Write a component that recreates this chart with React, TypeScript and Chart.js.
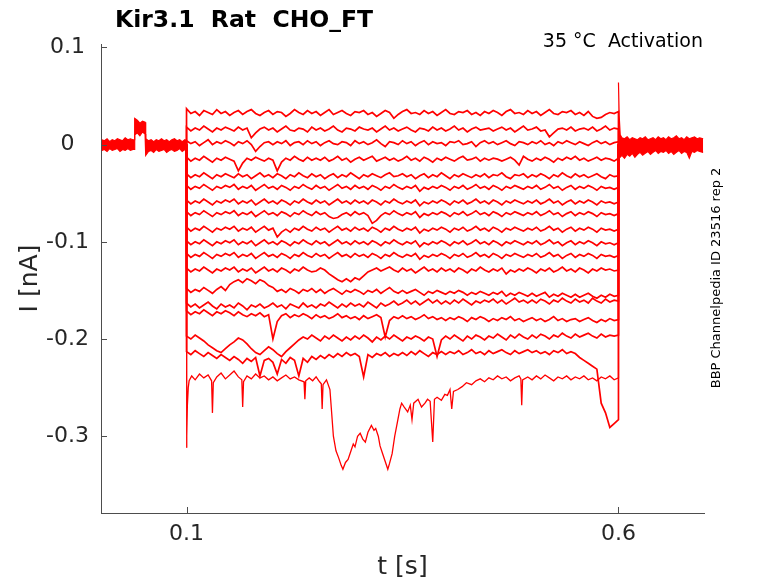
import React, { useEffect, useRef } from 'react';
import { Chart, registerables } from 'chart.js';

Chart.register(...registerables);

// axis ranges and ticks (seconds, nA)
const X_MIN = 0.001;
const X_MAX = 0.699;
const Y_MIN = -0.379;
const Y_MAX = 0.1035;
const X_TICKS = [0.1, 0.6];
const Y_TICKS = [-0.3, -0.2, -0.1, 0, 0.1];

// holding current before the step, band edges in pA
const PRE_T = [0.002, 0.005, 0.008, 0.011, 0.014, 0.017, 0.020, 0.023, 0.026, 0.029,
  0.032, 0.035, 0.038, 0.0395, 0.040, 0.043, 0.046, 0.049, 0.052, 0.0525,
  0.053, 0.056, 0.059, 0.062, 0.065, 0.068, 0.071, 0.074, 0.077, 0.080,
  0.083, 0.086, 0.089, 0.092, 0.095, 0.098, 0.0995];
const PRE_HI = [5, 4, 6, 3, 5, 4, 6, 5, 4, 7,
  5, 6, 5, 5, 27, 25, 22, 24, 23, 20,
  6, 4, 5, 3, 5, 4, 6, 4, 5, 3,
  5, 6, 4, 5, 3, 5, 4];
const PRE_LO = [-6, -5, -7, -4, -6, -5, -4, -7, -5, -6,
  -4, -6, -5, -5, 10, 12, 9, 13, 11, 10,
  -11, -7, -6, -8, -5, -7, -6, -5, -8, -6,
  -5, -7, -6, -4, -7, -5, -6];

// tail current after the step, band edges in pA
const TAIL_T = [0.600, 0.6008, 0.602, 0.604, 0.607, 0.610, 0.613, 0.616, 0.619, 0.622,
  0.625, 0.628, 0.631, 0.634, 0.637, 0.640, 0.643, 0.646, 0.649, 0.652,
  0.655, 0.658, 0.661, 0.664, 0.667, 0.670, 0.673, 0.676, 0.679, 0.682,
  0.685, 0.688, 0.691, 0.694, 0.698];
const TAIL_HI = [64, 30, 10, 7, 6, 8, 5, 7, 6, 5,
  7, 6, 8, 5, 6, 7, 5, 8, 6, 7,
  5, 8, 6, 7, 9, 6, 7, 5, 8, 6,
  7, 8, 6, 7, 6];
const TAIL_LO = [-5, -12, -13, -11, -14, -10, -12, -9, -13, -10,
  -8, -11, -9, -7, -10, -8, -6, -9, -7, -8,
  -6, -9, -7, -10, -8, -6, -9, -7, -8, -14,
  -7, -8, -6, -7, -8];

// sample times during the voltage step
const STEP_T = [
  0.100, 0.105, 0.110, 0.115, 0.120, 0.125, 0.130, 0.135, 0.140, 0.145,
  0.150, 0.155, 0.160, 0.165, 0.170, 0.175, 0.180, 0.185, 0.190, 0.195,
  0.200, 0.205, 0.210, 0.215, 0.220, 0.225, 0.230, 0.235, 0.240, 0.245,
  0.250, 0.255, 0.260, 0.265, 0.270, 0.275, 0.280, 0.285, 0.290, 0.295,
  0.300, 0.305, 0.310, 0.315, 0.320, 0.325, 0.330, 0.335, 0.340, 0.345,
  0.350, 0.355, 0.360, 0.365, 0.370, 0.375, 0.380, 0.385, 0.390, 0.395,
  0.400, 0.405, 0.410, 0.415, 0.420, 0.425, 0.430, 0.435, 0.440, 0.445,
  0.450, 0.455, 0.460, 0.465, 0.470, 0.475, 0.480, 0.485, 0.490, 0.495,
  0.500, 0.505, 0.510, 0.515, 0.520, 0.525, 0.530, 0.535, 0.540, 0.545,
  0.550, 0.555, 0.560, 0.565, 0.570, 0.575, 0.580, 0.585, 0.590, 0.595,
  0.600,
];

// step currents in pA, one array per sweep
const TRACE_01 = [
  37, 32, 34, 30, 35, 33, 31, 36, 32, 34,
  30, 33, 35, 31, 34, 36, 32, 30, 33, 35,
  31, 34, 33, 29, 32, 36, 33, 31, 35, 32,
  34, 30, 33, 36, 31, 33, 35, 32, 30, 34,
  33, 35, 31, 33, 29, 32, 35, 33, 27, 31,
  34, 36, 32, 33, 31, 35, 32, 34, 30, 33,
  36, 32, 31, 34, 33, 35, 31, 33, 30, 34,
  32, 35, 33, 30, 34, 36, 32, 33, 31, 35,
  32, 34, 30, 33, 36, 32, 31, 34, 33, 35,
  31, 33, 30, 34, 29, 27, 28, 31, 33, 32,
  34,
];
const TRACE_02 = [
  18, 14, 17, 15, 19, 16, 13, 17, 15, 18,
  16, 14, 18, 15, 17, 7, 12, 16, 18, 15,
  17, 13, 16, 19, 15, 14, 17, 16, 13, 18,
  15, 17, 14, 16, 19, 15, 13, 17, 16, 14,
  18, 16, 15, 17, 13, 16, 19, 15, 17, 14,
  16, 18, 15, 13, 17, 16, 14, 18, 15, 17,
  14, 16, 19, 15, 17, 13, 16, 18, 15, 16,
  17, 14, 16, 18, 15, 17, 13, 16, 19, 15,
  16, 18, 14, 15, 8, 12, 16, 17, 15, 18,
  14, 16, 17, 15, 18, 14, 16, 19, 15, 17,
  16,
];
const TRACE_03 = [
  4, 1, 3, -1, 2, 5, 0, 3, 1, 4,
  2, -1, 3, 1, 4, 0, -7, -2, 2, 3,
  0, 3, 1, 4, -1, 2, 3, 0, 4, 1,
  3, -1, 2, 4, 1, 0, 3, 2, -1, 4,
  1, 3, 0, 2, 5, 1, -2, 3, 2, 0,
  4, 1, 3, -1, 2, 4, 0, 3, 1, 2,
  -1, 3, 2, 4, 0, 1, 3, -2, 2, 4,
  1, 3, 0, 2, 4, 1, -1, 3, 2, 0,
  3, 1, 4, 0, 2, -1, 3, 1, 4, 2,
  0, 3, 1, -1, 2, 4, 1, 3, 0, 2,
  3,
];
const TRACE_04 = [
  -13, -17, -14, -16, -12, -15, -18, -14, -16, -13,
  -15, -17, -27, -19, -14, -16, -13, -15, -17, -14,
  -16, -27, -18, -14, -16, -12, -15, -17, -13, -16,
  -14, -16, -13, -17, -15, -12, -16, -14, -18, -15,
  -13, -16, -14, -12, -17, -15, -13, -16, -14, -17,
  -15, -12, -16, -14, -17, -13, -15, -18, -14, -16,
  -13, -15, -17, -14, -12, -16, -15, -13, -17, -14,
  -16, -14, -15, -17, -15, -13, -16, -21, -12, -15,
  -17, -14, -16, -13, -15, -18, -14, -16, -13, -15,
  -12, -16, -14, -17, -15, -13, -16, -14, -15, -17,
  -14,
];
const TRACE_05 = [
  -30, -34, -31, -33, -29, -32, -35, -31, -33, -30,
  -32, -34, -30, -33, -31, -35, -32, -29, -33, -31,
  -34, -30, -32, -35, -31, -33, -29, -32, -34, -30,
  -33, -31, -35, -32, -30, -34, -31, -33, -29, -32,
  -35, -31, -33, -30, -32, -34, -31, -29, -33, -32,
  -30, -33, -31, -35, -32, -30, -34, -31, -33, -29,
  -32, -35, -31, -33, -30, -32, -34, -31, -33, -30,
  -34, -31, -32, -29, -33, -35, -31, -32, -30, -34,
  -31, -33, -30, -32, -35, -31, -33, -29, -32, -34,
  -30, -33, -31, -34, -32, -30, -33, -35, -31, -33,
  -32,
];
const TRACE_06 = [
  -42, -46, -43, -45, -41, -44, -47, -43, -45, -42,
  -44, -41, -46, -43, -45, -42, -47, -44, -41, -45,
  -43, -46, -42, -44, -47, -43, -45, -41, -44, -46,
  -42, -45, -43, -47, -44, -41, -45, -43, -46, -42,
  -45, -43, -46, -42, -44, -47, -43, -45, -41, -44,
  -46, -43, -45, -42, -48, -44, -46, -43, -45, -42,
  -44, -47, -43, -45, -42, -46, -44, -41, -45, -43,
  -46, -42, -44, -47, -43, -45, -42, -44, -46, -43,
  -45, -42, -46, -44, -41, -45, -43, -47, -44, -42,
  -46, -43, -45, -42, -44, -47, -43, -45, -44, -46,
  -44,
];
const TRACE_07 = [
  -57, -61, -58, -60, -56, -59, -62, -58, -60, -57,
  -59, -56, -61, -58, -60, -57, -62, -59, -56, -60,
  -58, -61, -57, -59, -62, -58, -60, -56, -59, -61,
  -57, -60, -58, -62, -59, -56, -60, -58, -61, -57,
  -60, -58, -61, -57, -59, -62, -58, -60, -56, -59,
  -61, -58, -60, -57, -63, -59, -61, -58, -60, -57,
  -59, -62, -58, -60, -57, -61, -59, -56, -60, -58,
  -61, -57, -59, -62, -58, -60, -57, -59, -61, -58,
  -60, -57, -61, -59, -56, -60, -58, -62, -59, -57,
  -61, -58, -60, -57, -59, -62, -58, -60, -59, -61,
  -59,
];
const TRACE_08 = [
  -69, -73, -70, -72, -68, -71, -74, -70, -72, -69,
  -71, -68, -73, -70, -72, -69, -74, -71, -68, -72,
  -70, -73, -69, -71, -74, -70, -72, -68, -71, -73,
  -69, -72, -70, -74, -76, -75, -72, -70, -73, -69,
  -72, -70, -73, -81, -78, -73, -70, -72, -68, -71,
  -73, -70, -72, -69, -75, -71, -73, -70, -72, -69,
  -71, -74, -70, -72, -69, -73, -71, -68, -72, -70,
  -73, -69, -71, -74, -70, -72, -69, -71, -73, -70,
  -72, -69, -73, -71, -68, -72, -70, -74, -71, -69,
  -73, -70, -72, -69, -71, -74, -70, -72, -71, -73,
  -71,
];
const TRACE_09 = [
  -85, -89, -86, -88, -84, -87, -90, -86, -88, -85,
  -87, -84, -89, -86, -88, -85, -90, -87, -84, -88,
  -86, -95, -90, -87, -90, -86, -88, -84, -87, -89,
  -85, -88, -86, -90, -87, -84, -88, -86, -89, -85,
  -88, -86, -89, -85, -87, -90, -86, -88, -84, -87,
  -89, -86, -88, -85, -91, -87, -89, -86, -88, -85,
  -87, -90, -86, -88, -85, -89, -87, -84, -88, -86,
  -89, -85, -87, -90, -86, -88, -85, -87, -89, -86,
  -88, -85, -89, -87, -84, -88, -86, -90, -87, -85,
  -89, -86, -88, -85, -87, -90, -86, -88, -87, -89,
  -87,
];
const TRACE_10 = [
  -99, -103, -100, -102, -98, -101, -104, -100, -102, -99,
  -101, -98, -103, -100, -102, -99, -104, -101, -98, -102,
  -100, -103, -99, -101, -104, -100, -102, -98, -101, -103,
  -99, -102, -100, -104, -101, -98, -102, -100, -103, -99,
  -102, -100, -103, -99, -101, -104, -100, -102, -98, -101,
  -103, -100, -102, -99, -105, -101, -103, -100, -102, -99,
  -101, -104, -100, -102, -99, -103, -101, -98, -102, -100,
  -103, -99, -101, -104, -100, -102, -99, -101, -103, -100,
  -102, -99, -103, -101, -98, -102, -100, -104, -101, -99,
  -103, -100, -102, -99, -101, -104, -100, -102, -101, -103,
  -101,
];
const TRACE_11 = [
  -112, -116, -113, -115, -111, -114, -117, -113, -115, -112,
  -114, -111, -116, -113, -115, -112, -117, -114, -111, -115,
  -113, -116, -112, -114, -117, -113, -115, -111, -114, -116,
  -112, -115, -113, -117, -114, -111, -115, -113, -116, -112,
  -115, -113, -116, -112, -114, -117, -113, -115, -111, -114,
  -116, -113, -115, -112, -118, -114, -116, -113, -115, -112,
  -114, -117, -113, -115, -112, -116, -114, -111, -115, -113,
  -116, -112, -114, -117, -113, -115, -112, -114, -116, -113,
  -115, -112, -116, -114, -111, -115, -113, -117, -114, -112,
  -116, -113, -115, -112, -114, -117, -113, -115, -114, -116,
  -114,
];
const TRACE_12 = [
  -127, -131, -128, -130, -126, -129, -132, -128, -130, -127,
  -129, -126, -131, -128, -130, -127, -132, -129, -126, -130,
  -128, -131, -127, -129, -132, -128, -130, -126, -129, -131,
  -130, -127, -129, -133, -136, -139, -141, -138, -141, -137,
  -139, -135, -131, -129, -127, -130, -128, -126, -129, -131,
  -127, -130, -128, -132, -129, -126, -130, -128, -131, -127,
  -130, -128, -131, -127, -129, -132, -128, -130, -126, -129,
  -131, -128, -130, -127, -133, -129, -131, -128, -130, -127,
  -129, -132, -128, -130, -127, -131, -129, -126, -130, -128,
  -131, -127, -129, -132, -128, -130, -127, -129, -128, -130,
  -129,
];
const TRACE_13 = [
  -148, -152, -149, -151, -147, -150, -153, -149, -146, -150,
  -144, -141, -139, -142, -138, -140, -143, -139, -141, -145,
  -147, -151, -149, -152, -148, -150, -153, -149, -151, -148,
  -152, -149, -153, -150, -148, -151, -154, -150, -152, -149,
  -151, -154, -150, -152, -149, -153, -150, -147, -151, -153,
  -150, -153, -151, -149, -152, -155, -151, -153, -150, -152,
  -154, -151, -153, -150, -152, -155, -152, -154, -151, -153,
  -155, -152, -154, -151, -156, -153, -155, -152, -154, -156,
  -153, -156, -154, -152, -157, -154, -156, -153, -155, -157,
  -154, -157, -155, -153, -156, -158, -155, -157, -154, -156,
  -155,
];
const TRACE_14 = [
  -163, -167, -164, -168, -165, -162, -166, -169, -164, -167,
  -165, -168, -163, -166, -170, -165, -167, -164, -168, -166,
  -163, -167, -165, -169, -164, -166, -168, -163, -167, -165,
  -168, -164, -166, -162, -165, -168, -164, -167, -163, -166,
  -164, -167, -162, -165, -168, -163, -166, -164, -161, -165,
  -163, -160, -164, -161, -165, -162, -159, -163, -160, -164,
  -161, -164, -160, -163, -159, -162, -165, -161, -163, -160,
  -162, -159, -163, -160, -164, -161, -158, -162, -160, -163,
  -160, -163, -159, -161, -164, -160, -162, -158, -161, -163,
  -159, -162, -160, -163, -158, -161, -163, -159, -162, -160,
  -161,
];
const TRACE_15 = [
  -171, -175, -172, -174, -170, -173, -176, -172, -174, -171,
  -173, -176, -172, -175, -177, -174, -176, -173, -177, -175,
  -200, -182, -176, -174, -178, -175, -177, -174, -176, -179,
  -175, -178, -176, -179, -177, -174, -178, -176, -179, -177,
  -180, -176, -179, -177, -175, -178, -198, -181, -177, -179,
  -176, -179, -177, -180, -178, -175, -179, -177, -180, -178,
  -181, -178, -180, -177, -179, -182, -178, -180, -177, -179,
  -182, -179, -181, -178, -180, -177, -181, -179, -182, -180,
  -178, -181, -179, -182, -180, -177, -181, -179, -182, -180,
  -179, -182, -180, -178, -181, -183, -180, -182, -179, -181,
  -180,
];
const TRACE_16 = [
  -197, -200, -196, -199, -202, -206, -209, -212, -214, -210,
  -206, -203, -199, -201, -205, -210, -214, -216, -212, -208,
  -211, -215, -218, -213, -209, -205, -201, -198, -200, -196,
  -199, -202, -197, -200, -196, -199, -202, -198, -201, -197,
  -200, -196, -199, -203, -198, -201, -197, -200, -196, -199,
  -202, -198, -200, -197, -199, -202, -198, -200, -218, -201,
  -197, -200, -196, -199, -202, -197, -200, -196, -198, -201,
  -197, -199, -195, -198, -201, -196, -199, -195, -198, -200,
  -196, -199, -195, -197, -200, -196, -198, -194, -197, -199,
  -195, -198, -196, -194, -197, -199, -195, -198, -196, -197,
  -196,
];
const TRACE_17 = [
  -213, -216, -212, -215, -218, -214, -217, -220, -216, -219,
  -222, -218, -221, -225, -220, -223, -219, -238, -222, -220,
  -224, -236, -221, -225, -219, -222, -238, -220, -224, -218,
  -221, -217, -220, -216, -219, -215, -218, -214, -217, -215,
  -218, -239, -216, -219, -215, -217, -214, -218, -215, -217,
  -214, -217, -213, -216, -212, -215, -218, -214, -216, -213,
  -216, -213, -215, -212, -216, -214, -211, -215, -213, -216,
  -212, -215, -213, -211, -214, -216, -212, -215, -213, -211,
  -214, -212, -215, -213, -216, -212, -214, -211, -215, -213,
  -215, -219, -222, -225, -228, -231, -266, -276, -291, -287,
  -283,
];

// deepest sweep, sampled more finely through its large dips
const DIP_T = [
  0.1, 0.1005, 0.101, 0.102, 0.103, 0.106, 0.11, 0.115, 0.12, 0.125,
  0.129, 0.13, 0.131, 0.135, 0.14, 0.145, 0.15, 0.155, 0.16, 0.164,
  0.165, 0.166, 0.17, 0.175, 0.18, 0.185, 0.19, 0.195, 0.2, 0.205,
  0.21, 0.215, 0.22, 0.225, 0.23, 0.236, 0.237, 0.238, 0.242, 0.246,
  0.25, 0.254, 0.256, 0.257, 0.258, 0.262, 0.266, 0.27, 0.273, 0.276,
  0.279, 0.281, 0.284, 0.287, 0.29, 0.293, 0.295, 0.298, 0.301, 0.304,
  0.307, 0.31, 0.314, 0.317, 0.319, 0.322, 0.324, 0.327, 0.33, 0.333,
  0.335, 0.338, 0.341, 0.344, 0.347, 0.349, 0.352, 0.356, 0.359, 0.361,
  0.363, 0.368, 0.372, 0.376, 0.379, 0.382, 0.385, 0.387, 0.39, 0.395,
  0.399, 0.402, 0.405, 0.407, 0.409, 0.414, 0.419, 0.424, 0.43, 0.435,
  0.44, 0.445, 0.45, 0.455, 0.46, 0.465, 0.47, 0.475, 0.48, 0.485,
  0.487, 0.488, 0.489, 0.495, 0.5, 0.505, 0.51, 0.515, 0.52, 0.525,
  0.53, 0.535, 0.54, 0.545, 0.55, 0.555, 0.56, 0.565, 0.57, 0.575,
  0.58, 0.585, 0.59, 0.595, 0.6,
];
const DIP_I = [
  -312, -300, -268, -250, -243, -238, -242, -236, -240, -237,
  -243, -276, -245, -239, -235, -241, -237, -233, -239, -242,
  -270, -244, -238, -241, -236, -240, -238, -242, -239, -243,
  -240, -237, -241, -239, -242, -244, -262, -243, -240, -243,
  -239, -244, -246, -272, -247, -242, -252, -300, -315, -322,
  -330, -334, -327, -324, -316, -308, -311, -300, -297, -303,
  -306, -296, -289, -294, -292, -300, -310, -318, -326, -334,
  -328, -318, -300, -286, -272, -266, -270, -275, -268, -283,
  -266, -262, -270, -266, -262, -264, -306, -262, -260, -263,
  -257, -258, -252, -272, -254, -252, -249, -245, -247, -243,
  -241, -244, -240, -242, -238, -241, -239, -243, -240, -238,
  -241, -268, -242, -239, -242, -238, -241, -237, -240, -243,
  -239, -241, -238, -242, -239, -241, -238, -242, -240, -243,
  -239, -241, -238, -242, -240,
];

const STEP_TRACES = [
  TRACE_01, TRACE_02, TRACE_03, TRACE_04, TRACE_05, TRACE_06,
  TRACE_07, TRACE_08, TRACE_09, TRACE_10, TRACE_11, TRACE_12,
  TRACE_13, TRACE_14, TRACE_15, TRACE_16, TRACE_17,
];

const TITLE = 'Kir3.1  Rat  CHO_FT';
const CONDITION = '35 °C  Activation';
const SOURCE = 'BBP Channelpedia ID 23516 rep 2';

const RED = '#ff0000';
const AXIS = '#4d4d4d';
const TXT = '#262626';
const FONT = '"DejaVu Sans", sans-serif';

const toPoints = (times: number[], values: number[]) =>
  times.slice(0, values.length).map((t, i) => ({ x: t, y: values[i] / 1000 }));

const sweep = (times: number[], values: number[]) => [
  { x: 0.1, y: 0 },
  ...toPoints(times, values),
  { x: 0.6, y: 0 },
];

const fmt = (v: number | string) => {
  const n = Number(v);
  return Math.abs(n) < 1e-9 ? '0' : String(Math.round(n * 10) / 10);
};

// inward tick marks and the free-standing labels
const decorations = {
  id: 'decorations',
  afterDraw(chart: any) {
    const { ctx, chartArea, scales } = chart;
    ctx.save();
    ctx.strokeStyle = AXIS;
    ctx.lineWidth = 1;
    ctx.beginPath();
    Y_TICKS.forEach((v) => {
      const y = Math.round(scales.y.getPixelForValue(v)) + 0.5;
      ctx.moveTo(chartArea.left, y);
      ctx.lineTo(chartArea.left + 6, y);
    });
    X_TICKS.forEach((v) => {
      const x = Math.round(scales.x.getPixelForValue(v)) + 0.5;
      ctx.moveTo(x, chartArea.bottom);
      ctx.lineTo(x, chartArea.bottom - 6);
    });
    ctx.stroke();

    ctx.fillStyle = '#000';
    ctx.textBaseline = 'alphabetic';
    ctx.textAlign = 'left';
    ctx.font = `bold 23.5px ${FONT}`;
    ctx.fillText(TITLE, 115, 27);

    ctx.textAlign = 'right';
    ctx.font = `19px ${FONT}`;
    ctx.fillText(CONDITION, 703, 47);

    ctx.translate(717, 278);
    ctx.rotate(-Math.PI / 2);
    ctx.textAlign = 'center';
    ctx.textBaseline = 'middle';
    ctx.font = `13px ${FONT}`;
    ctx.fillText(SOURCE, 0, 0);
    ctx.restore();
  },
};

const App: React.FC = () => {
  const canvasRef = useRef<HTMLCanvasElement>(null);

  useEffect(() => {
    if (!canvasRef.current) return;
    const ctx = canvasRef.current.getContext('2d');
    if (!ctx) return;

    const line = (data: { x: number; y: number }[], extra: object = {}) => ({
      data,
      borderColor: RED,
      backgroundColor: RED,
      borderWidth: 1.7,
      pointRadius: 0,
      fill: false,
      tension: 0,
      ...extra,
    });

    const chart = new Chart(ctx, {
      type: 'line',
      data: {
        datasets: [
          line(toPoints(PRE_T, PRE_HI), { borderWidth: 1.2 }),
          line(toPoints(PRE_T, PRE_LO), { fill: '-1', borderWidth: 1.2 }),
          line(toPoints(TAIL_T, TAIL_HI), { borderWidth: 1.2 }),
          line(toPoints(TAIL_T, TAIL_LO), { fill: '-1', borderWidth: 1.2 }),
          ...STEP_TRACES.map((v) => line(sweep(STEP_T, v))),
          line(sweep(DIP_T, DIP_I), { borderWidth: 1.3 }),
        ] as any,
      },
      options: {
        animation: false,
        responsive: false,
        events: [],
        layout: { padding: { top: 44, right: 74, left: 0, bottom: 0 } },
        plugins: {
          legend: { display: false },
          tooltip: { enabled: false },
        },
        scales: {
          x: {
            type: 'linear',
            min: X_MIN,
            max: X_MAX,
            afterFit: (s: any) => { s.height = 70; },
            afterBuildTicks: (s: any) => { s.ticks = X_TICKS.map((value) => ({ value })); },
            grid: { display: false, drawTicks: false },
            border: { display: true, color: AXIS, width: 1 },
            ticks: {
              color: TXT,
              font: { family: FONT, size: 22 },
              padding: 8,
              maxRotation: 0,
              autoSkip: false,
              callback: (v: any) => fmt(v),
            },
            title: {
              display: true,
              text: 't [s]',
              color: TXT,
              font: { family: FONT, size: 25, lineHeight: 1.2 },
              padding: { top: 0, bottom: 1 },
            },
          },
          y: {
            type: 'linear',
            min: Y_MIN,
            max: Y_MAX,
            afterFit: (s: any) => { s.width = 101; },
            afterBuildTicks: (s: any) => { s.ticks = Y_TICKS.map((value) => ({ value })); },
            grid: { display: false, drawTicks: false },
            border: { display: true, color: AXIS, width: 1 },
            ticks: {
              color: TXT,
              font: { family: FONT, size: 22 },
              padding: 12,
              crossAlign: 'center',
              autoSkip: false,
              callback: (v: any) => fmt(v),
            },
            title: {
              display: true,
              text: 'I [nA]',
              color: TXT,
              font: { family: FONT, size: 25, lineHeight: 1.2 },
              padding: { top: 15, bottom: 0 },
            },
          },
        },
      } as any,
      plugins: [decorations],
    });

    return () => chart.destroy();
  }, []);

  return (
    <div style={{ position: 'fixed', left: 0, top: 0, width: 778, height: 583, background: '#fff' }}>
      <canvas ref={canvasRef} width={778} height={583} style={{ display: 'block' }} />
    </div>
  );
};

export default App;
